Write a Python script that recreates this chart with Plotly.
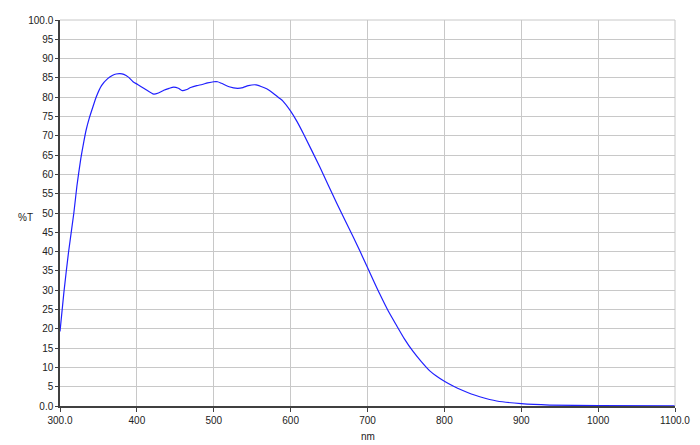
import plotly.graph_objects as go

wavelength = [300, 305, 311, 318, 322, 327, 331, 334, 338, 342, 347, 354, 362, 368, 373, 378, 383, 389,
              395, 401, 410, 422, 428, 435, 442, 448, 454, 459, 465, 470, 478, 485, 492, 500,
              505, 510, 520, 531, 538, 545, 555, 565, 572, 578, 585, 590, 600, 608, 617, 638,
              660, 681, 700, 708, 716, 727, 738, 748, 759, 770, 781, 790, 800, 812, 824, 835, 846,
              868, 900, 937, 1000, 1100]
transmission = [19.3, 29.3, 39.7, 50.0, 57.0, 64.0, 68.5, 71.5, 74.5, 77.0, 80.0, 83.0, 84.8, 85.6, 86.0, 86.1, 85.9, 85.2,
                84.0, 83.3, 82.2, 80.8, 81.1, 81.8, 82.3, 82.6, 82.3, 81.7, 82.0, 82.5, 83.0, 83.3, 83.7, 84.0,
                84.0, 83.6, 82.7, 82.3, 82.5, 83.0, 83.2, 82.5, 81.8, 80.9, 79.8, 79.0, 76.4, 73.8, 70.4, 61.9,
                52.5, 44.0, 35.9, 32.4, 29.0, 24.6, 20.8, 17.4, 14.2, 11.5, 9.1, 7.7, 6.4, 5.1, 4.0, 3.1, 2.4,
                1.3, 0.6, 0.25, 0.1, 0.05]

x_ticks = [300, 400, 500, 600, 700, 800, 900, 1000, 1100]
x_tick_labels = ["300.0", "400", "500", "600", "700", "800", "900", "1000", "1100.0"]
y_ticks = list(range(0, 101, 5))
y_tick_labels = ["0.0"] + [str(v) for v in range(5, 100, 5)] + ["100.0"]

font_family = "Liberation Sans, Arial, sans-serif"
text_color = "#222222"
grid_color = "#c8c8c8"
axis_color = "#404040"

# The page body has an 8px margin; figure box is placed at (8, 8)
ML, MT, MR, MB = 51.5, 6, 25, 39
W, H = 692, 437
plot_w = W - ML - MR
plot_h = H - MT - MB

fig = go.Figure()
fig.add_trace(go.Scatter(x=wavelength, y=transmission, mode="lines",
                         line=dict(color="#2020ff", width=1.2, shape="spline", smoothing=0.6),
                         showlegend=False, hoverinfo="skip"))

fig.update_layout(
    width=W, height=H,
    margin=dict(l=ML, r=MR, t=MT, b=MB),
    paper_bgcolor="white", plot_bgcolor="white",
    font=dict(family=font_family, size=10, color=text_color),
    xaxis=dict(range=[300, 1100], tickvals=x_ticks, ticktext=x_tick_labels,
               showgrid=True, gridcolor=grid_color, gridwidth=1,
               showline=True, linecolor=axis_color, linewidth=1.5,
               ticks="outside", ticklen=4, tickcolor=axis_color,
               zeroline=False, fixedrange=True),
    yaxis=dict(range=[0, 100], tickvals=y_ticks, ticktext=y_tick_labels,
               showgrid=True, gridcolor=grid_color, gridwidth=1,
               showline=True, linecolor=axis_color, linewidth=1.5,
               ticks="outside", ticklen=3, tickcolor=axis_color,
               zeroline=False, fixedrange=True),
)

# "%T" label (horizontal) left of the y axis, and "nm" below the x axis
fig.add_annotation(text="%T", x=(25 - 8 - ML) / plot_w, y=(406 - 215) / plot_h,
                   xref="paper", yref="paper", showarrow=False,
                   xanchor="center", yanchor="middle",
                   font=dict(family=font_family, size=10, color=text_color))
fig.add_annotation(text="nm", x=0.5, y=(406 - 436.5) / plot_h,
                   xref="paper", yref="paper", showarrow=False,
                   xanchor="center", yanchor="middle",
                   font=dict(family=font_family, size=10, color=text_color))

# top and right borders in grid gray
fig.add_shape(type="line", xref="paper", yref="paper", x0=0, x1=1, y0=1, y1=1,
              line=dict(color=grid_color, width=1))
fig.add_shape(type="line", xref="paper", yref="paper", x0=1, x1=1, y0=0, y1=1,
              line=dict(color=grid_color, width=1))

fig.write_html("out.html")
